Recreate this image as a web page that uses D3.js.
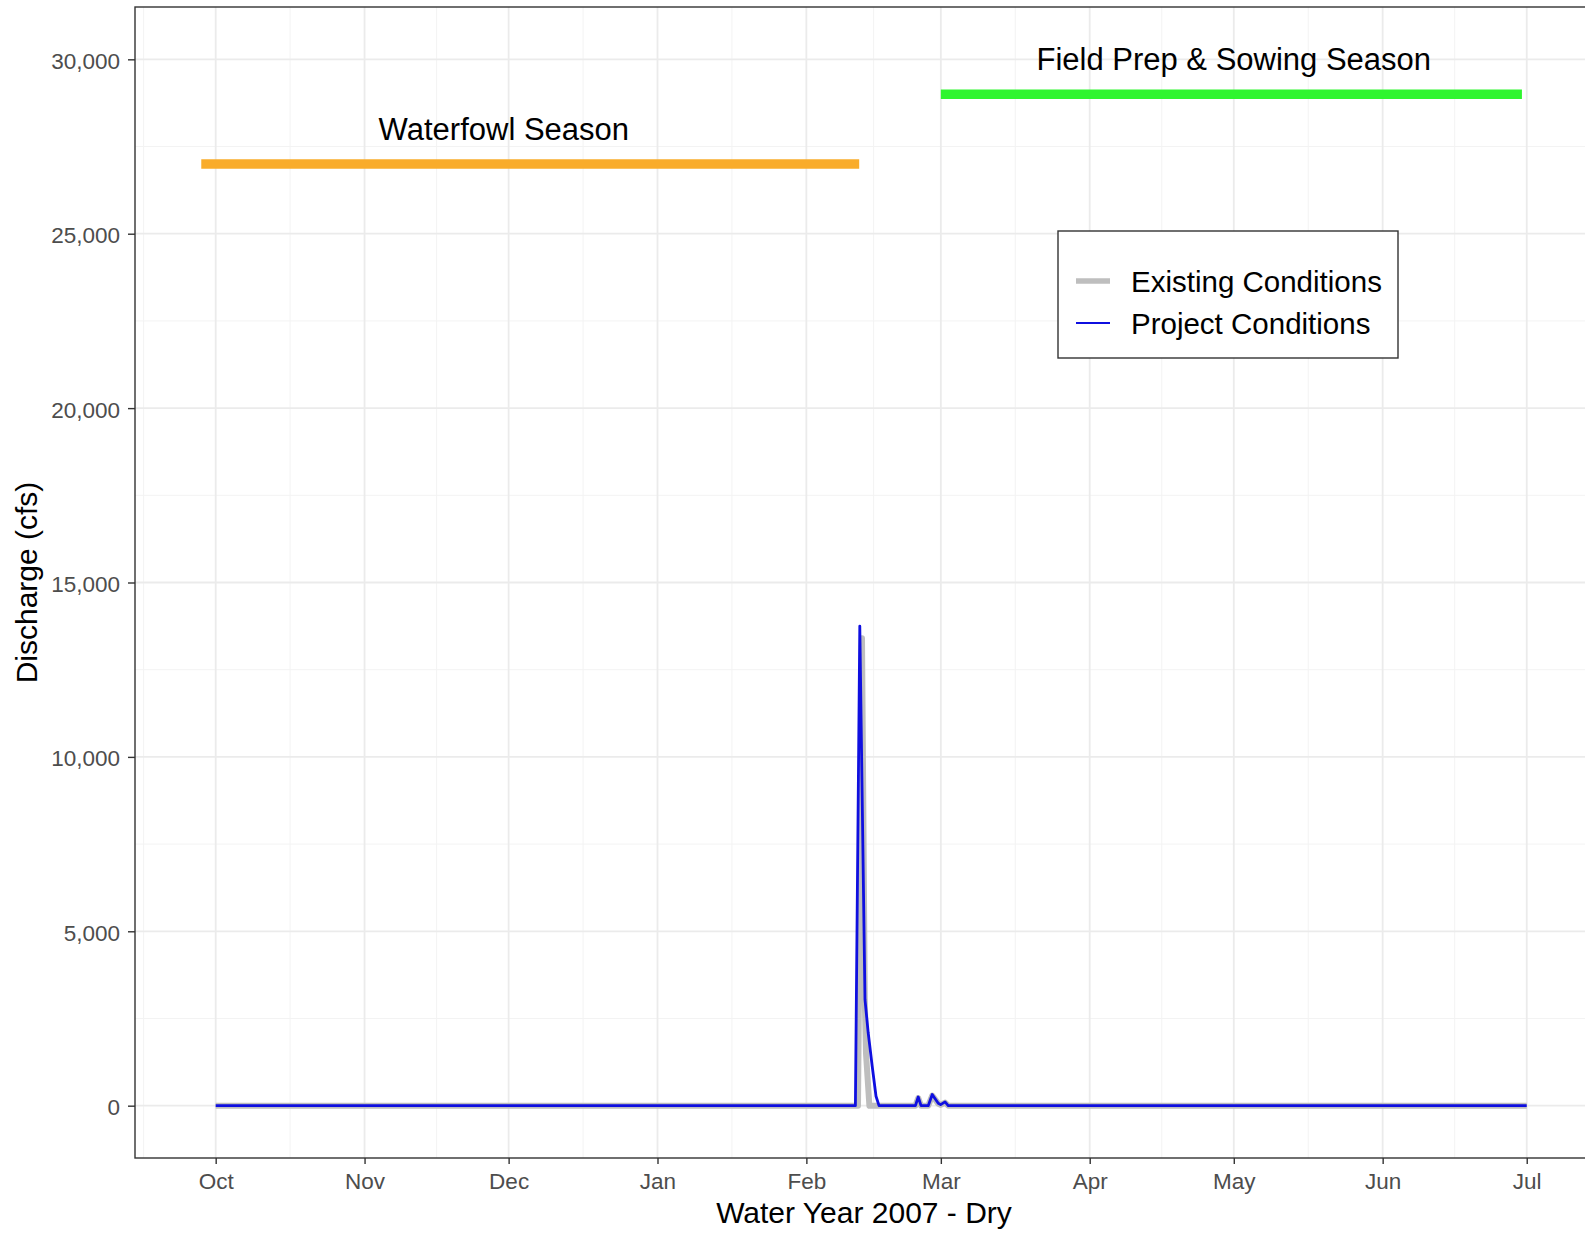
<!DOCTYPE html>
<html lang="en">
<head>
<meta charset="utf-8">
<style>
  body { margin: 0; background: white; }
  svg { font-family: 'Liberation Sans', Arial, sans-serif; display: block; background: white; }
  .grid-major line { stroke: #EBEBEB; stroke-width: 1.8px; }
  .grid-minor line { stroke: #F3F3F3; stroke-width: 1px; }
  .axis text { fill: #4D4D4D; font-size: 22.5px; font-family: 'Liberation Sans', Arial, sans-serif; }
  .axis line { stroke: #333333; stroke-width: 1.4px; }
  .axis path { display: none; }
  .axis-title { font-size: 30px; fill: black; }
  .season-label { font-size: 31px; fill: black; }
  .legend text { font-size: 29.5px; fill: black; }
  path.flow { fill: none; stroke-linejoin: round; }
</style>
</head>
<body>
<svg width="1585" height="1234"></svg>
<script src="https://d3js.org/d3.v7.min.js"></script>
<script>
// ---- data ----
const monthTicks  = ["2006-10-01", "2006-11-01", "2006-12-01", "2007-01-01", "2007-02-01",
                     "2007-03-01", "2007-04-01", "2007-05-01", "2007-06-01", "2007-07-01"];
const monthLabels = ["Oct", "Nov", "Dec", "Jan", "Feb", "Mar", "Apr", "May", "Jun", "Jul"];
const yTicks = [0, 5000, 10000, 15000, 20000, 25000, 30000];

const seriesNames = ["Existing Conditions", "Project Conditions"];

const existingTimes = ["2006-10-01T00:00", "2007-02-11T18:00", "2007-02-12T14:00", "2007-02-13T04:00",
  "2007-02-13T10:00", "2007-02-14T03:00", "2007-02-23T17:00", "2007-02-24T07:00", "2007-02-24T21:00",
  "2007-02-26T09:00", "2007-02-27T05:00", "2007-02-28T11:00", "2007-02-28T23:00", "2007-03-01T21:00",
  "2007-03-02T13:00", "2007-07-01T00:00"];
const existingFlow = [0, 0, 13400, 3000,
  1500, 0, 0, 220, 0,
  0, 290, 60, 20, 90,
  0, 0];

const projectTimes = ["2006-10-01T00:00", "2007-02-11T05:00", "2007-02-12T03:00", "2007-02-13T05:00",
  "2007-02-13T21:00", "2007-02-14T17:00", "2007-02-15T12:00", "2007-02-16T03:00", "2007-02-23T17:00",
  "2007-02-24T07:00", "2007-02-24T21:00", "2007-02-26T09:00", "2007-02-27T05:00", "2007-02-28T11:00",
  "2007-02-28T23:00", "2007-03-01T21:00", "2007-03-02T13:00", "2007-07-01T00:00"];
const projectFlow = [0, 0, 13750, 3040,
  2090, 1130, 270, 0, 0,
  250, 0, 0, 320, 70,
  30, 110, 0, 0];

const seasonNames      = ["Waterfowl Season", "Field Prep & Sowing Season"];
const seasonStart      = ["2006-09-28", "2007-03-01"];
const seasonEnd        = ["2007-02-12", "2007-06-30"];
const seasonLevel      = [27000, 29000];
const seasonLabelDate  = ["2006-11-30", "2007-05-01"];
const seasonLabelLevel = [28000, 30000];

// ---- layout ----
const width = 1585, height = 1234;
const panel = { left: 135, top: 7, right: 1593, bottom: 1158 };

const t = s => new Date((s.length === 10 ? s + "T00:00" : s) + "Z");

const existing = existingTimes.map((d, i) => ({ date: t(d), value: existingFlow[i] }));
const project  = projectTimes.map((d, i) => ({ date: t(d), value: projectFlow[i] }));

// ggplot-like 5% expansion of the data range
function expand([a, b]) { const m = (b - a) * 0.05; return [a - m, b + m]; }

const allDates = [...existing, ...project].map(d => +d.date)
  .concat(seasonStart.map(d => +t(d)), seasonEnd.map(d => +t(d)));
const xDom = expand(d3.extent(allDates));
const allValues = [...existingFlow, ...projectFlow, ...seasonLabelLevel];
const yDom = expand(d3.extent(allValues));

const x = d3.scaleUtc().domain(xDom.map(v => new Date(v))).range([panel.left, panel.right]);
const y = d3.scaleLinear().domain(yDom).range([panel.bottom, panel.top]);

const color = d3.scaleOrdinal().domain(seasonNames).range(["#F9AC2B", "#2FF52F"]);
const lineColor = d3.scaleOrdinal().domain(seriesNames).range(["#BEBEBE", "#0F0FE0"]);
const lineWidth = d3.scaleOrdinal().domain(seriesNames).range([6, 2.8]);

const svg = d3.select("svg");

svg.append("defs").append("clipPath").attr("id", "clip")
  .append("rect")
  .attr("x", panel.left).attr("y", panel.top)
  .attr("width", panel.right - panel.left).attr("height", panel.bottom - panel.top);

const plot = svg.append("g").attr("clip-path", "url(#clip)");

// ---- grid ----
const tickDates = monthTicks.map(t);
const extTicks = [d3.utcMonth.offset(tickDates[0], -1), ...tickDates, d3.utcMonth.offset(tickDates[tickDates.length - 1], 1)];
const minorX = d3.pairs(extTicks).map(([a, b]) => new Date((+a + +b) / 2));
const minorY = d3.pairs(yTicks).map(([a, b]) => (a + b) / 2);

const gMinor = plot.append("g").attr("class", "grid-minor");
gMinor.selectAll("line.mx").data(minorX).join("line").attr("class", "mx")
  .attr("x1", d => x(d)).attr("x2", d => x(d)).attr("y1", panel.top).attr("y2", panel.bottom);
gMinor.selectAll("line.my").data(minorY).join("line").attr("class", "my")
  .attr("y1", d => y(d)).attr("y2", d => y(d)).attr("x1", panel.left).attr("x2", panel.right);

const gMajor = plot.append("g").attr("class", "grid-major");
gMajor.selectAll("line.mx").data(tickDates).join("line").attr("class", "mx")
  .attr("x1", d => x(d)).attr("x2", d => x(d)).attr("y1", panel.top).attr("y2", panel.bottom);
gMajor.selectAll("line.my").data(yTicks).join("line").attr("class", "my")
  .attr("y1", d => y(d)).attr("y2", d => y(d)).attr("x1", panel.left).attr("x2", panel.right);

// ---- season bars and labels ----
plot.selectAll("line.season").data(seasonNames).join("line")
  .attr("class", "season")
  .attr("x1", (d, i) => x(t(seasonStart[i])))
  .attr("x2", (d, i) => x(t(seasonEnd[i])))
  .attr("y1", (d, i) => y(seasonLevel[i]))
  .attr("y2", (d, i) => y(seasonLevel[i]))
  .attr("stroke", d => color(d))
  .attr("stroke-width", 9.5);

plot.selectAll("text.season-label").data(seasonNames).join("text")
  .attr("class", "season-label")
  .attr("x", (d, i) => x(t(seasonLabelDate[i])))
  .attr("y", (d, i) => y(seasonLabelLevel[i]))
  .attr("dy", "0.36em")
  .attr("text-anchor", "middle")
  .text(d => d);

// ---- flow lines ----
const line = d3.line().x(d => x(d.date)).y(d => y(d.value));
[existing, project].forEach((data, i) => {
  plot.append("path")
    .attr("class", "flow")
    .attr("d", line(data))
    .attr("stroke", lineColor(seriesNames[i]))
    .attr("stroke-width", lineWidth(seriesNames[i]));
});

// ---- panel border ----
svg.append("rect")
  .attr("x", panel.left).attr("y", panel.top)
  .attr("width", panel.right - panel.left).attr("height", panel.bottom - panel.top)
  .attr("fill", "none").attr("stroke", "#333333").attr("stroke-width", 1.4);

// ---- axes ----
const xAxis = d3.axisBottom(x).tickValues(tickDates)
  .tickFormat((d, i) => monthLabels[i]).tickSize(6).tickPadding(9);
svg.append("g").attr("class", "axis x")
  .attr("transform", "translate(0," + panel.bottom + ")")
  .call(xAxis);

const yAxis = d3.axisLeft(y).tickValues(yTicks)
  .tickFormat(d3.format(",")).tickSize(7).tickPadding(8);
svg.append("g").attr("class", "axis y")
  .attr("transform", "translate(" + panel.left + ",0)")
  .call(yAxis)
  .selectAll("text").attr("dy", "0.40em");

svg.append("text").attr("class", "axis-title")
  .attr("x", (panel.left + panel.right) / 2).attr("y", 1223)
  .attr("text-anchor", "middle")
  .text("Water Year 2007 - Dry");

svg.append("text").attr("class", "axis-title")
  .attr("transform", "translate(37," + (panel.top + panel.bottom) / 2 + ") rotate(-90)")
  .attr("text-anchor", "middle")
  .text("Discharge (cfs)");

// ---- legend ----
const legend = svg.append("g").attr("class", "legend").attr("transform", "translate(1058,231)");
legend.append("rect").attr("width", 340).attr("height", 127)
  .attr("fill", "white").attr("stroke", "#333333").attr("stroke-width", 1.4);

const item = legend.selectAll("g.item").data(seriesNames).join("g")
  .attr("class", "item")
  .attr("transform", (d, i) => "translate(0," + (50 + i * 42) + ")");
item.append("line")
  .attr("x1", 18).attr("x2", 52)
  .attr("stroke", d => lineColor(d))
  .attr("stroke-width", (d, i) => i === 0 ? 5.7 : 2);
item.append("text")
  .attr("x", 73).attr("dy", "0.36em")
  .text(d => d);
</script>
</body>
</html>
